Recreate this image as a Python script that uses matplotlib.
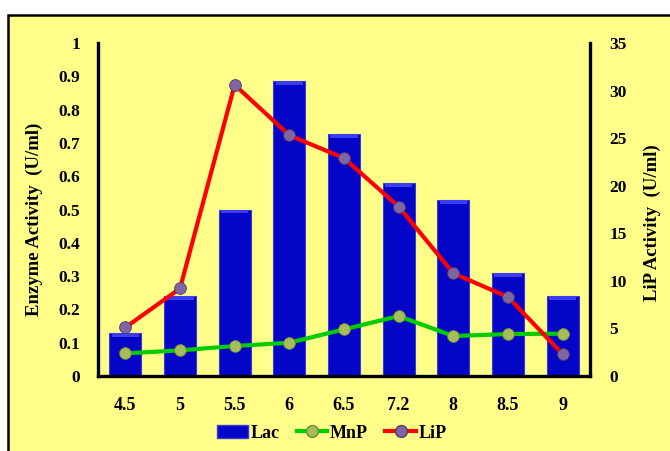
import matplotlib
matplotlib.use("Agg")
import matplotlib.pyplot as plt
from matplotlib.patches import Rectangle
from matplotlib.lines import Line2D
import numpy as np

ph = ["4.5", "5", "5.5", "6", "6.5", "7.2", "8", "8.5", "9"]
lac = [0.13, 0.24, 0.50, 0.885, 0.727, 0.58, 0.53, 0.31, 0.24]
mnp = [0.068, 0.077, 0.09, 0.10, 0.14, 0.18, 0.12, 0.126, 0.127]
lip = [5.1, 9.2, 30.6, 25.3, 22.9, 17.8, 10.8, 8.3, 2.3]

plt.rcParams['font.family'] = ['Liberation Serif', 'DejaVu Serif']
plt.rcParams['font.weight'] = 'bold'

fig = plt.figure(figsize=(6.7, 4.51), dpi=100, facecolor='white')
bg = Rectangle((8/670, -0.05), 1.1, 1 - 15/451 + 0.05, transform=fig.transFigure,
               facecolor='#FFFF8A', edgecolor='black', linewidth=1.8, zorder=-10)
fig.patches.append(bg)

ax = fig.add_axes([98/670, 1 - 376/451, 492/670, 333/451])
ax.set_facecolor('none')
x = np.arange(len(ph))
ax.bar(x, lac, width=0.58, color='#0505C8', edgecolor='#3A3AD8', linewidth=0.8, zorder=2)
ax.bar(x, [0.012]*len(x), bottom=np.array(lac) - 0.012, width=0.5, color='#3C3CF0',
       linewidth=0, zorder=2.1)
ax.plot(x, mnp, color='#00CC00', lw=3, marker='o', ms=8.5, mfc='#A5BE5A', mec='#6F8A30',
        mew=0.6, zorder=3)
ax.set_xlim(-0.5, len(ph) - 0.5)
ax.set_ylim(0, 1)
ax.set_yticks(np.round(np.arange(0, 1.01, 0.1), 1))
ax.set_yticklabels(["0", "0.1", "0.2", "0.3", "0.4", "0.5", "0.6", "0.7", "0.8", "0.9", "1"])
ax.set_xticks(x)
ax.set_xticklabels(ph)

ax2 = ax.twinx()
ax2.plot(x, lip, color='#FF0000', lw=3, marker='o', ms=8.5, mfc='#7F66A0', mec='#4E3A70',
         mew=0.6, zorder=3)
ax2.set_ylim(0, 35)
ax2.set_yticks(range(0, 36, 5))

for a in (ax, ax2):
    for s in a.spines.values():
        s.set_linewidth(2.4)
    a.spines['top'].set_visible(False)
    a.tick_params(length=0, labelsize=12.5)
ax.spines['right'].set_visible(False)
ax2.spines['left'].set_visible(False)
ax2.spines['bottom'].set_visible(False)
ax.tick_params(axis='y', pad=13)
ax.tick_params(axis='x', pad=15, labelsize=13)
ax2.tick_params(axis='y', pad=14)
for lbl in ax.get_xticklabels() + ax.get_yticklabels() + ax2.get_yticklabels():
    lbl.set_fontweight('bold')

ax.set_ylabel("Enzyme Activity  (U/ml)", fontsize=13.5, fontweight='bold')
ax.yaxis.set_label_coords(-0.112, 0.47)
ax2.set_ylabel("LiP Activity  (U/ml)", fontsize=13.5, fontweight='bold', rotation=90)
ax2.yaxis.set_label_coords(1.11, 0.46)

handles = [
    Rectangle((0, 0), 1, 1, facecolor='#0505C8', edgecolor='#3A3AD8'),
    Line2D([], [], color='#00CC00', lw=3, marker='o', ms=8.5, mfc='#A5BE5A', mec='#6F8A30'),
    Line2D([], [], color='#FF0000', lw=3, marker='o', ms=8.5, mfc='#7F66A0', mec='#4E3A70'),
]
fig.legend(handles, ["Lac", "MnP", "LiP"], loc='center', bbox_to_anchor=(332/670, 1 - 433/451),
           ncol=3, frameon=False, prop={'weight': 'bold', 'size': 13},
           handlelength=1.7, handletextpad=0.15, columnspacing=0.95)

fig.savefig("out.png", dpi=100, facecolor='white')
